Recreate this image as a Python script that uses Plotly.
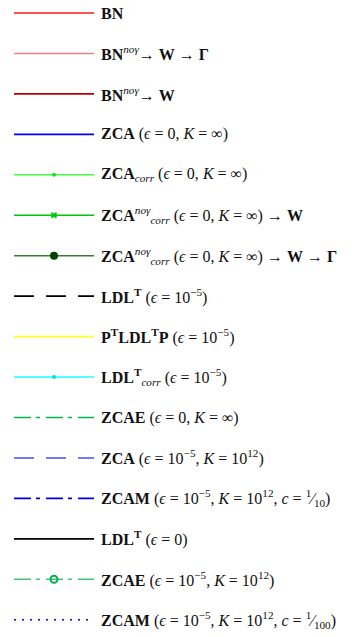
import plotly.graph_objects as go

# legend entries (text only)
labels = [
    "<b>BN</b>",
    "<b>BN</b><sup><i>noγ</i></sup>→ <b>W</b> → <b>Γ</b>",
    "<b>BN</b><sup><i>noγ</i></sup>→ <b>W</b>",
    "<b>ZCA</b> (<i>ϵ</i> = 0, <i>K</i> = ∞)",
    "<b>ZCA</b><sub><i>corr</i></sub> (<i>ϵ</i> = 0, <i>K</i> = ∞)",
    "<b>ZCA</b><sup><i>noγ</i></sup><sub><i>corr</i></sub> (<i>ϵ</i> = 0, <i>K</i> = ∞) → <b>W</b>",
    "<b>ZCA</b><sup><i>noγ</i></sup><sub><i>corr</i></sub> (<i>ϵ</i> = 0, <i>K</i> = ∞) → <b>W</b> → <b>Γ</b>",
    "<b>LDL<sup>T</sup></b> (<i>ϵ</i> = 10<sup>−5</sup>)",
    "<b>P<sup>T</sup>LDL<sup>T</sup>P</b> (<i>ϵ</i> = 10<sup>−5</sup>)",
    "<b>LDL<sup>T</sup></b><sub><i>corr</i></sub> (<i>ϵ</i> = 10<sup>−5</sup>)",
    "<b>ZCAE</b> (<i>ϵ</i> = 0, <i>K</i> = ∞)",
    "<b>ZCA</b> (<i>ϵ</i> = 10<sup>−5</sup>, <i>K</i> = 10<sup>12</sup>)",
    "<b>ZCAM</b> (<i>ϵ</i> = 10<sup>−5</sup>, <i>K</i> = 10<sup>12</sup>, <i>c</i> = <sup>1</sup>⁄<sub>10</sub>)",
    "<b>LDL<sup>T</sup></b> (<i>ϵ</i> = 0)",
    "<b>ZCAE</b> (<i>ϵ</i> = 10<sup>−5</sup>, <i>K</i> = 10<sup>12</sup>)",
    "<b>ZCAM</b> (<i>ϵ</i> = 10<sup>−5</sup>, <i>K</i> = 10<sup>12</sup>, <i>c</i> = <sup>1</sup>⁄<sub>100</sub>)",
]

# styles
colors = ["#ff1a1a", "#f08080", "#b80000", "#0000ff", "#44ff44", "#00c800",
          "#3c7a3c", "#000000", "#ffff1a", "#1affff", "#00b84a", "#4a4aff",
          "#0000e0", "#000000", "#40c878", "#0000ff"]
dashes = ["solid", "solid", "solid", "solid", "solid", "solid", "solid",
          "20px,12px", "solid", "solid", "17px,5px,4px,6px", "20px,12px",
          "17px,5px,4px,6px", "solid", "17px,5px,4px,6px", "2px,6px"]
markers = [None, None, None, None, ("circle", 2, "#22dd22"), ("x-thin", 5, "#00c800"),
           ("circle", 6, "#004400"), None, None, ("circle", 2, "#00e0e0"), None, None,
           None, None, ("circle-open", 7, "#00b050"), None]

W, H = 362, 637
ROW0, STEP = 13, 40.45
X0, X1, XT = 14, 94, 99

fig = go.Figure()
for i, lab in enumerate(labels):
    y = ROW0 + STEP * i
    fig.add_trace(go.Scatter(x=[X0, X1], y=[y, y], mode="lines",
                             line=dict(color=colors[i], width=1.6, dash=dashes[i]),
                             hoverinfo="skip", showlegend=False))
    if markers[i]:
        sym, sz, mc = markers[i]
        fig.add_trace(go.Scatter(x=[(X0 + X1) / 2], y=[y], mode="markers",
                                 marker=dict(symbol=sym, size=sz, color=mc,
                                             line=dict(color=mc, width=2)),
                                 hoverinfo="skip", showlegend=False))
    fig.add_annotation(x=XT, y=y, text=lab, showarrow=False, xanchor="left",
                       yanchor="middle", font=dict(family="Liberation Serif", size=16, color="#111"))

axis = dict(showline=False, zeroline=False, showgrid=False, showticklabels=False)
fig.update_layout(width=W, height=H, margin=dict(l=0, r=0, t=0, b=0),
                  plot_bgcolor="white", paper_bgcolor="white",
                  xaxis=dict(axis, range=[0, W]),
                  yaxis=dict(axis, range=[H, 0]))
# drop the browser's default body margin so the figure fills the window
fig.write_html("out.html", config={"displayModeBar": False},
               post_script="document.body.style.margin='0';document.body.style.overflow='hidden';")
